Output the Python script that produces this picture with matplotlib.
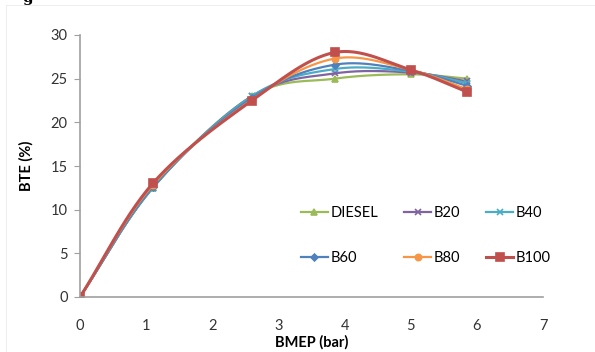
"""BTE against BMEP for diesel and the biodiesel blends, with smoothed
curves through the measured points."""

import matplotlib
matplotlib.use('Agg')
import matplotlib.pyplot as plt
import numpy as np

bmep = [0, 1.1, 2.6, 3.85, 5.0, 5.85]

diesel = [0, 12.5, 23.0, 25.0, 25.5, 25.0]
b20 = [0, 12.5, 23.0, 25.6, 25.7, 24.7]
b40 = [0, 12.5, 23.0, 26.1, 25.8, 24.5]
b60 = [0, 12.6, 22.8, 26.6, 25.9, 24.2]
b80 = [0, 12.8, 22.6, 27.3, 26.0, 23.8]
b100 = [0, 13.0, 22.5, 28.0, 26.0, 23.5]

names = ['DIESEL', 'B20', 'B40', 'B60', 'B80', 'B100']
colors = ['#9BBB59', '#8064A2', '#4BACC6', '#4F81BD', '#F79646', '#C0504D']
markers = ['^', 'x', 'x', 'D', 'o', 's']
msizes = [4, 4.5, 4.5, 3.5, 4.5, 6]
lwidths = [1.6, 1.6, 1.6, 1.6, 1.6, 2.2]


def smooth(x, y, n=30):
    """Catmull-Rom spline through the points, like a spreadsheet's
    smoothed line."""
    x = np.asarray(x, float)
    y = np.asarray(y, float)
    px = np.concatenate(([2 * x[0] - x[1]], x, [2 * x[-1] - x[-2]]))
    py = np.concatenate(([2 * y[0] - y[1]], y, [2 * y[-1] - y[-2]]))
    xs, ys = [], []
    t = np.linspace(0, 1, n)
    for i in range(1, len(px) - 2):
        for p, out in ((px, xs), (py, ys)):
            p0, p1, p2, p3 = p[i - 1], p[i], p[i + 1], p[i + 2]
            out.extend(0.5 * (2 * p1 + (-p0 + p2) * t
                              + (2 * p0 - 5 * p1 + 4 * p2 - p3) * t ** 2
                              + (-p0 + 3 * p1 - 3 * p2 + p3) * t ** 3))
    return np.array(xs), np.array(ys)


plt.rcParams['font.family'] = ['Lato', 'DejaVu Sans']
FS = 10.5

fig = plt.figure(figsize=(5.95, 3.52), dpi=100)
ax = fig.add_axes([80 / 595, 55 / 352, 463 / 595, 262 / 352])

series = [diesel, b20, b40, b60, b80, b100]
handles = []
for vals, name, c, m, ms, lw in zip(series, names, colors, markers, msizes, lwidths):
    sx, sy = smooth(bmep, vals)
    ax.plot(sx, sy, color=c, lw=lw, solid_capstyle='round')
    ax.plot(bmep, vals, ls='none', marker=m, color=c, ms=ms, mew=1.2)
    h, = ax.plot([], [], color=c, lw=lw, marker=m, ms=ms, mew=1.2, label=name)
    handles.append(h)

ax.set_xlim(0, 7)
ax.set_ylim(0, 30)
ax.set_xticks(range(0, 8))
ax.set_yticks(range(0, 31, 5))
for s in ['top', 'right']:
    ax.spines[s].set_visible(False)
for s in ['left', 'bottom']:
    ax.spines[s].set_color('#A0A0A0')
    ax.spines[s].set_linewidth(1.2)
ax.tick_params(axis='y', length=4, color='#A0A0A0', labelsize=FS,
               labelcolor='#333333', pad=5)
ax.tick_params(axis='x', length=0, labelsize=FS, labelcolor='#333333', pad=16)
ax.set_xlabel('BMEP (bar)', fontsize=FS, fontweight='bold', labelpad=1)
ax.set_ylabel('BTE (%)', fontsize=FS, fontweight='bold', labelpad=12)

# legend fills by column, so interleave to read row by row
order = [0, 3, 1, 4, 2, 5]
fig.legend([handles[i] for i in order], [names[i] for i in order],
           loc='upper left', bbox_to_anchor=(301 / 595, 1 - 206 / 352), ncol=3,
           frameon=False, fontsize=FS, handlelength=1.85, columnspacing=1.75,
           labelspacing=2.15, handletextpad=0.2, borderpad=0, borderaxespad=0)

# faint frame edge and leftover caption letter along the top
fig.add_artist(plt.Line2D([6 / 595, 1], [1 - 5 / 352] * 2, color='#EEEEEE', lw=0.8))
fig.add_artist(plt.Line2D([6 / 595] * 2, [0, 1 - 5 / 352], color='#EEEEEE', lw=0.8))
fig.text(28 / 595, 1.005, 'g', fontsize=11, fontweight='bold', family='serif',
         va='center', ha='center')

fig.savefig('out.png', dpi=100)
